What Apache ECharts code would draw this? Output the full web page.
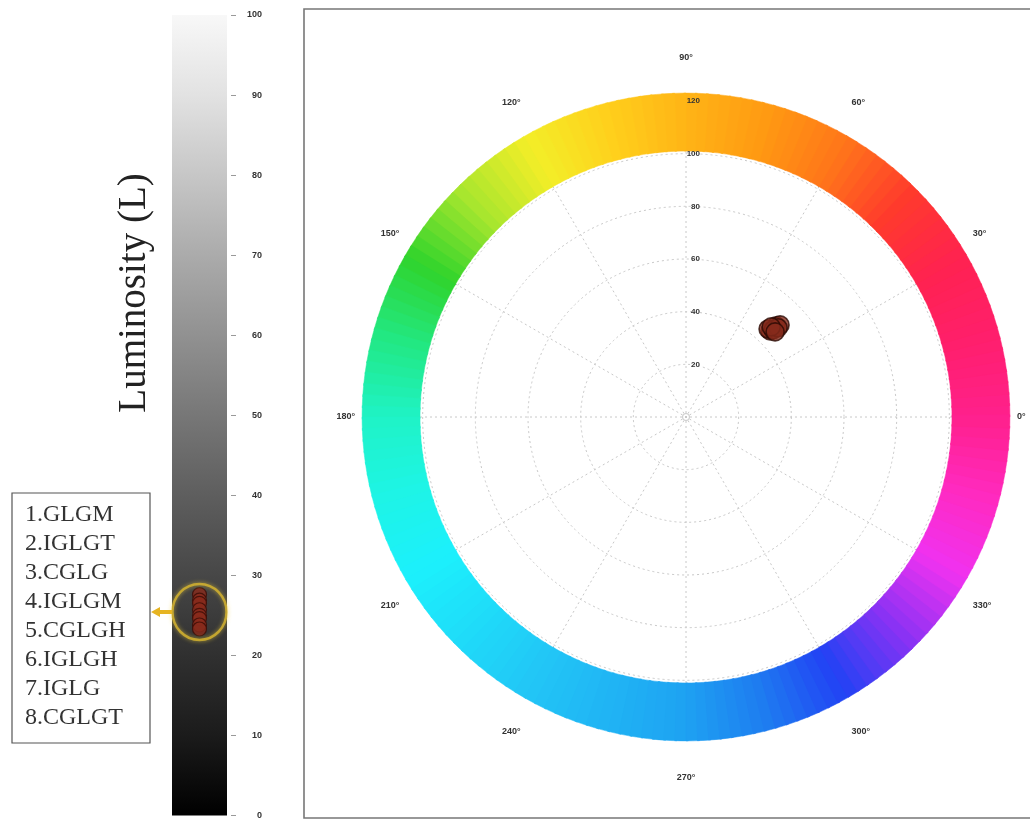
<!DOCTYPE html>
<html><head><meta charset="utf-8">
<script src="https://cdn.jsdelivr.net/npm/echarts@6/dist/echarts.min.js"></script>
<style>html,body{margin:0;padding:0;background:#fff}#c{width:1030px;height:820px}</style>
</head><body><div id="c"></div>
<script>
// ---- data ----
const samples = ['1.GLGM','2.IGLGT','3.CGLG','4.IGLGM','5.CGLGH','6.IGLGH','7.IGLG','8.CGLGT'];
const luminosity = [27.6, 26.9, 26.5, 25.7, 25.0, 24.6, 23.8, 23.3];
const chroma = [45.7, 48.7, 45.7, 50.0, 46.8, 48.7, 47.1, 46.8];
const hue = [45.7, 45.3, 47.0, 44.4, 45.0, 44.1, 46.6, 43.7];
const lumTicks = [0, 10, 20, 30, 40, 50, 60, 70, 80, 90, 100];
const chromaTicks = [0, 20, 40, 60, 80, 100, 120];
const hueTicks = [0, 30, 60, 90, 120, 150, 180, 210, 240, 270, 300, 330, 360];
// colour wheel appearance (hue angle -> colour as seen in the picture)
const hueStops = [
  [0,'#ff208c'],[15,'#ff1f6c'],[30,'#ff2250'],[45,'#ff3a2c'],[60,'#ff761a'],
  [75,'#ff9a12'],[90,'#ffb416'],[105,'#ffd01c'],[120,'#f3ee28'],[135,'#a8e62e'],
  [150,'#30d42c'],[165,'#22e882'],[180,'#1ff3c6'],[195,'#1ef4e6'],[210,'#1cf0fc'],
  [240,'#22c6f6'],[270,'#1ea2f2'],[285,'#1e7cf0'],[300,'#2242f4'],[315,'#8a32f4'],
  [330,'#f032f0'],[345,'#ff2ac0'],[360,'#ff208c']
];
const ringInner = 101, ringOuter = 123;
const lumGradient = [[0,'#f8f8f8'],[0.1,'#e2e2e2'],[0.3,'#ababab'],[0.5,'#777777'],[0.6,'#5e5e5e'],[0.7,'#474747'],[0.8,'#303030'],[0.9,'#1b1b1b'],[1,'#000000']];

// ---- helpers ----
function hex(c){return [parseInt(c.slice(1,3),16),parseInt(c.slice(3,5),16),parseInt(c.slice(5,7),16)];}
function colorAt(a){
  for(let i=0;i<hueStops.length-1;i++){
    const [a0,c0]=hueStops[i],[a1,c1]=hueStops[i+1];
    if(a>=a0&&a<=a1){const t=(a-a0)/(a1-a0);const p=hex(c0),q=hex(c1);
      return 'rgb('+p.map((v,k)=>Math.round(v+(q[k]-v)*t)).join(',')+')';}
  }
  return hueStops[0][1];
}
const segStep = 2;
const ringSegs = [], ringColors = [];
for(let a=0;a<360;a+=segStep){ringSegs.push([a, a+segStep]); ringColors.push(colorAt(a+segStep/2));}

const meanL = luminosity.reduce((s,v)=>s+v,0)/luminosity.length;
const fontFam = '"Liberation Sans", Arial, sans-serif';
const axisFont = {fontSize: 9, fontWeight: 'bold', color: '#333', fontFamily: fontFam};
const dashed = {color: '#c8c8c8', type: [2, 3], width: 1};

// label spacing styles for the angle labels (picture is slightly taller than wide)
function tok(p, up){return {fontSize: 9, fontWeight: 'bold', color: '#333', fontFamily: fontFam, padding: up ? [0,0,p,0] : [p,0,0,0]};}
const angRich = {t1: tok(13, true), t2: tok(23, true), t3: tok(24, true), b1: tok(19, false), b2: tok(23, false), b3: tok(25, false), m: tok(0, true)};
function angFmt(v){
  const d = v % 360, s = d + '°';
  if (d === 0 || d === 180) return '{m|' + s + '}';
  const up = d < 180, a = up ? d : d - 180;
  const lvl = (a === 90) ? 3 : (a === 60 || a === 120) ? 2 : 1;
  return '{' + (up ? 't' : 'b') + lvl + '|' + s + '}';
}

const chart = echarts.init(document.getElementById('c'));
const option = {
  backgroundColor: '#fff',
  animation: false,
  grid: [{left: 172, top: 15, width: 55, height: 801}],
  xAxis: [{type: 'category', data: ['L'], show: false, gridIndex: 0}],
  yAxis: [{
    type: 'value', gridIndex: 0, position: 'right', offset: 4,
    min: lumTicks[0], max: lumTicks[lumTicks.length-1], interval: lumTicks[1]-lumTicks[0],
    axisLine: {show: false}, splitLine: {show: false},
    axisTick: {show: true, length: 5, lineStyle: {color: '#999'}},
    axisLabel: Object.assign({margin: 31, align: 'right'}, axisFont)
  }],
  polar: [
    {center: [686, 417], radius: 316},
    {center: [686, 417], radius: 316}
  ],
  angleAxis: [
    {polarIndex: 0, type: 'value', min: hueTicks[0], max: hueTicks[hueTicks.length-1], interval: hueTicks[1]-hueTicks[0],
     startAngle: 0, clockwise: false,
     axisLine: {show: false}, axisTick: {show: false},
     splitLine: {show: true, lineStyle: dashed},
     axisLabel: Object.assign({margin: 15, formatter: angFmt, rich: angRich}, axisFont)},
    {polarIndex: 1, type: 'value', min: 0, max: 360, startAngle: 90, show: false}
  ],
  radiusAxis: [
    {polarIndex: 0, type: 'value', min: chromaTicks[0], max: chromaTicks[chromaTicks.length-1], interval: chromaTicks[1]-chromaTicks[0],
     axisLine: {show: false}, axisTick: {show: false}, axisLabel: {show: false},
     splitLine: {show: true, lineStyle: dashed}},
    {polarIndex: 1, type: 'value', min: chromaTicks[0], max: chromaTicks[chromaTicks.length-1], interval: chromaTicks[1]-chromaTicks[0],
     z: 20,
     axisLine: {show: false}, axisTick: {show: false}, splitLine: {show: false},
     axisLabel: Object.assign({}, axisFont, {showMinLabel: false, margin: -14, fontSize: 8})}
  ],
  series: [
    {
      type: 'bar', xAxisIndex: 0, yAxisIndex: 0, data: [lumTicks[lumTicks.length-1]], barWidth: '100%', silent: true,
      itemStyle: {color: new echarts.graphic.LinearGradient(0, 0, 0, 1, lumGradient.map(([o,c]) => ({offset: o, color: c})))},
      z: 1
    },
    {
      type: 'scatter', xAxisIndex: 0, yAxisIndex: 0, symbol: 'circle', symbolSize: 14,
      data: luminosity.map((v, i) => ({name: samples[i], value: [0, v]})),
      itemStyle: {color: '#8a2a1c', borderColor: '#3a0c06', borderWidth: 1.2}, z: 3
    },
    {
      type: 'scatter', xAxisIndex: 0, yAxisIndex: 0, symbol: 'circle', symbolSize: [54, 56],
      data: [[0, meanL]], silent: true,
      itemStyle: {color: 'rgba(0,0,0,0)', borderColor: '#d9b62e', borderWidth: 2.5, shadowBlur: 4, shadowColor: 'rgba(240,210,60,0.8)'}, z: 4
    },
    {
      type: 'custom', coordinateSystem: 'polar', polarIndex: 0, data: ringSegs, silent: true, clip: false, z: 2,
      renderItem: function(params, api){
        const cs = params.coordSys;
        const a1 = api.value(0), a2 = api.value(1);
        const k = cs.r / chromaTicks[chromaTicks.length-1];
        const col = ringColors[params.dataIndex];
        return {type: 'sector', shape: {cx: cs.cx, cy: cs.cy, r0: ringInner*k, r: ringOuter*k,
          startAngle: -(a2 + 0.4) * Math.PI / 180, endAngle: -a1 * Math.PI / 180, clockwise: true},
          style: {fill: col, stroke: col, lineWidth: 0.5}};
      }
    },
    {
      type: 'scatter', coordinateSystem: 'polar', polarIndex: 0, symbol: 'circle', symbolSize: 18,
      data: chroma.map((c, i) => ({name: samples[i], value: [c, hue[i]]})),
      itemStyle: {color: '#862b1c', borderColor: '#2b0a04', borderWidth: 1.6}, z: 5
    }
  ],
  graphic: [
    {type: 'rect', shape: {x: 304, y: 9, width: 760, height: 809}, style: {fill: 'none', stroke: '#777', lineWidth: 1.6}, z: 0, silent: true},
    {type: 'rect', shape: {x: 12, y: 493, width: 138, height: 250}, style: {fill: '#fff', stroke: '#555', lineWidth: 1.2}, z: 10, silent: true},
    ...samples.map((s, i) => ({type: 'text', x: 25, y: 515 + i * 28.9, z: 11, silent: true,
      style: {text: s, font: '24px "Liberation Serif", "Times New Roman", serif', fill: '#333', align: 'left', verticalAlign: 'middle'}})),
    {type: 'text', x: 135, y: 293, rotation: Math.PI / 2, z: 11, silent: true,
      style: {text: 'Luminosity (L)', font: '39px "Liberation Serif", "Times New Roman", serif', fill: '#222', align: 'center', verticalAlign: 'middle'}}
  ]
};
chart.setOption(option);
const py = chart.convertToPixel({gridIndex: 0}, [0, meanL])[1];
chart.setOption({graphic: option.graphic.concat([
  {type: 'polygon', z: 12, silent: true, shape: {points: [[151, py], [160, py - 5], [160, py - 2], [172, py - 2], [172, py + 2], [160, py + 2], [160, py + 5]]},
   style: {fill: '#e6b422'}},
  {type: 'circle', z: 1, silent: true, shape: {cx: 686, cy: 417, r: 3.5}, style: {fill: 'none', stroke: '#c8c8c8', lineWidth: 1}}
])});
</script></body></html>
